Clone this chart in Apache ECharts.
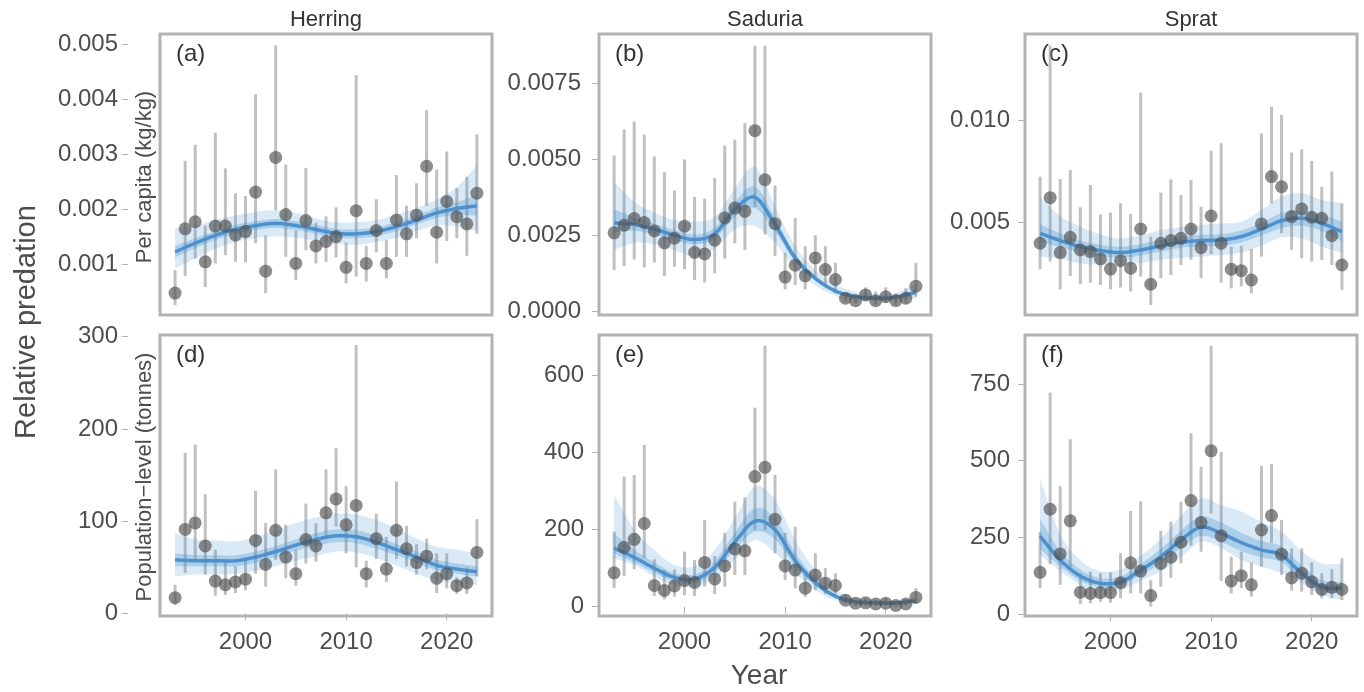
<!DOCTYPE html>
<html>
<head>
<meta charset="utf-8">
<style>
    html, body { margin: 0; padding: 0; background: #fff; }
    #chart { width: 1364px; height: 692px; }
</style>
</head>
<body>
<div id="chart"></div>
<script src="https://cdn.jsdelivr.net/npm/echarts@6.0.0/dist/echarts.min.js"></script>
<script>
    // years of the annual estimates and of the smooth trend knots
    var years = [1993, 1994, 1995, 1996, 1997, 1998, 1999, 2000, 2001, 2002, 2003, 2004, 2005, 2006, 2007,
        2008, 2009, 2010, 2011, 2012, 2013, 2014, 2015, 2016, 2017, 2018, 2019, 2020, 2021, 2022, 2023];
    var trendYears = [1993, 1995, 1997, 1999, 2001, 2003, 2005, 2007, 2009, 2011, 2013, 2015, 2017, 2019, 2021, 2023];
    var yearTicks = [2000, 2010, 2020];

    // per capita values are read in units of 0.001 kg/kg
    var PC_UNIT = 0.001;

    // (a) herring, per capita
    var herringPcEst = [0.47, 1.64, 1.77, 1.04, 1.69, 1.69, 1.53, 1.59, 2.31, 0.87, 2.94, 1.90, 1.01, 1.79, 1.33, 1.41, 1.50, 0.94, 1.97, 1.01, 1.61, 1.01, 1.80, 1.55, 1.89, 2.78, 1.58, 2.14, 1.86, 1.73, 2.29];
    var herringPcLo = [0.25, 0.78, 1.10, 0.58, 1.01, 1.16, 1.04, 1.03, 1.38, 0.47, 1.98, 1.13, 0.71, 1.25, 1.01, 1.04, 1.12, 0.65, 0.77, 0.68, 1.21, 0.74, 1.13, 1.13, 1.47, 2.06, 1.01, 1.42, 1.47, 1.15, 1.55];
    var herringPcHi = [0.89, 2.88, 3.17, 1.70, 3.39, 2.74, 2.29, 2.24, 4.09, 1.52, 4.98, 2.81, 1.61, 2.75, 1.75, 1.87, 2.03, 1.39, 4.44, 1.33, 2.18, 1.44, 2.62, 2.06, 2.47, 3.80, 2.72, 3.05, 2.38, 2.59, 3.36];
    var herringPcMean = [1.22, 1.38, 1.52, 1.63, 1.70, 1.74, 1.70, 1.63, 1.56, 1.55, 1.59, 1.68, 1.80, 1.93, 2.01, 2.06];
    var herringPcInLo = [1.12, 1.29, 1.44, 1.55, 1.62, 1.66, 1.62, 1.55, 1.48, 1.47, 1.51, 1.60, 1.72, 1.84, 1.89, 1.88];
    var herringPcInHi = [1.33, 1.47, 1.60, 1.71, 1.78, 1.82, 1.78, 1.71, 1.64, 1.63, 1.67, 1.76, 1.88, 2.03, 2.13, 2.25];
    var herringPcOutLo = [0.92, 1.10, 1.28, 1.40, 1.47, 1.50, 1.48, 1.43, 1.37, 1.35, 1.40, 1.48, 1.60, 1.70, 1.68, 1.60];
    var herringPcOutHi = [1.65, 1.70, 1.80, 1.88, 1.95, 1.98, 1.93, 1.83, 1.76, 1.76, 1.80, 1.90, 2.02, 2.18, 2.40, 2.80];
    var herringPcTicks = [0.001, 0.002, 0.003, 0.004, 0.005];

    // (b) saduria, per capita
    var saduriaPcEst = [2.58, 2.83, 3.05, 2.92, 2.64, 2.25, 2.40, 2.80, 1.93, 1.88, 2.34, 3.07, 3.40, 3.29, 5.95, 4.33, 2.88, 1.12, 1.51, 1.16, 1.75, 1.37, 1.04, 0.42, 0.34, 0.53, 0.34, 0.47, 0.34, 0.42, 0.82];
    var saduriaPcLo = [1.35, 1.48, 1.70, 1.44, 1.60, 1.16, 1.46, 1.38, 1.02, 0.94, 1.24, 1.73, 2.23, 2.01, 3.43, 2.53, 1.81, 0.71, 0.86, 0.71, 1.13, 0.83, 0.58, 0.31, 0.25, 0.34, 0.20, 0.27, 0.20, 0.25, 0.47];
    var saduriaPcHi = [5.13, 5.99, 6.25, 5.82, 5.10, 4.58, 3.98, 5.00, 3.76, 3.71, 4.39, 5.46, 5.65, 6.20, 8.75, 8.75, 4.14, 1.92, 3.07, 2.14, 2.50, 2.14, 1.59, 0.53, 0.47, 0.78, 0.64, 0.78, 0.58, 0.75, 1.59];
    var saduriaPcMean = [2.91, 2.85, 2.70, 2.50, 2.36, 2.55, 3.35, 3.75, 2.85, 1.75, 1.08, 0.66, 0.48, 0.42, 0.46, 0.62];
    var saduriaPcInLo = [2.60, 2.65, 2.52, 2.33, 2.20, 2.38, 3.10, 3.40, 2.62, 1.63, 1.00, 0.60, 0.44, 0.38, 0.42, 0.54];
    var saduriaPcInHi = [3.35, 3.10, 2.88, 2.67, 2.52, 2.75, 3.60, 4.10, 3.08, 1.88, 1.17, 0.72, 0.52, 0.46, 0.51, 0.72];
    var saduriaPcOutLo = [2.01, 2.25, 2.20, 2.00, 1.80, 2.05, 2.70, 2.80, 2.25, 1.40, 0.85, 0.50, 0.35, 0.32, 0.35, 0.42];
    var saduriaPcOutHi = [4.25, 3.60, 3.25, 3.00, 2.95, 3.10, 4.05, 4.75, 3.45, 2.15, 1.35, 0.88, 0.63, 0.55, 0.60, 0.90];
    var saduriaPcTicks = [0, 0.0025, 0.005, 0.0075];

    // (c) sprat, per capita
    var spratPcEst = [3.97, 6.21, 3.51, 4.26, 3.64, 3.56, 3.20, 2.70, 3.11, 2.74, 4.67, 1.95, 3.97, 4.10, 4.21, 4.67, 3.75, 5.31, 3.97, 2.69, 2.62, 2.16, 4.92, 7.25, 6.75, 5.28, 5.66, 5.25, 5.20, 4.34, 2.90];
    var spratPcLo = [2.69, 3.07, 1.70, 2.36, 1.95, 2.03, 1.92, 1.70, 1.79, 1.59, 2.33, 0.93, 2.25, 2.41, 2.90, 3.15, 2.25, 3.44, 2.03, 1.75, 1.84, 1.51, 3.31, 5.93, 4.46, 3.64, 3.23, 3.07, 3.15, 2.90, 1.67];
    var spratPcHi = [7.25, 13.70, 7.13, 7.57, 5.74, 6.84, 5.39, 5.48, 5.93, 5.41, 11.38, 4.30, 6.46, 7.11, 6.34, 7.08, 5.77, 8.52, 8.89, 3.80, 3.84, 3.69, 9.38, 10.69, 10.28, 8.43, 8.59, 8.02, 6.75, 7.49, 5.93];
    var spratPcMean = [4.46, 4.10, 3.80, 3.61, 3.51, 3.64, 3.84, 4.02, 4.10, 4.13, 4.30, 4.66, 5.08, 5.20, 4.95, 4.54];
    var spratPcInLo = [4.05, 3.77, 3.52, 3.35, 3.25, 3.37, 3.56, 3.74, 3.82, 3.85, 4.01, 4.35, 4.72, 4.83, 4.58, 4.08];
    var spratPcInHi = [4.90, 4.45, 4.10, 3.90, 3.80, 3.93, 4.13, 4.30, 4.38, 4.42, 4.60, 4.98, 5.45, 5.58, 5.35, 5.05];
    var spratPcOutLo = [3.31, 3.20, 2.98, 2.92, 2.90, 3.00, 3.15, 3.25, 3.31, 3.40, 3.51, 3.85, 4.26, 4.21, 3.80, 3.50];
    var spratPcOutHi = [6.26, 5.30, 4.79, 4.40, 4.21, 4.35, 4.62, 4.75, 4.87, 4.95, 5.03, 5.60, 6.26, 6.43, 6.10, 5.95];
    var spratPcTicks = [0.005, 0.010];

    // (d) herring, population level (tonnes)
    var herringPopEst = [17, 91, 98, 73, 35, 31, 34, 37, 79, 53, 90, 61, 43, 80, 73, 109, 124, 96, 117, 43, 81, 48, 90, 70, 55, 62, 38, 43, 30, 33, 66];
    var herringPopLo = [9, 44, 58, 42, 19, 20, 22, 25, 43, 29, 58, 38, 30, 54, 56, 84, 94, 65, 50, 28, 59, 34, 59, 51, 42, 48, 22, 27, 21, 21, 40];
    var herringPopHi = [31, 174, 183, 129, 69, 59, 51, 60, 133, 98, 156, 96, 69, 119, 98, 156, 179, 138, 291, 57, 108, 83, 143, 95, 75, 81, 65, 65, 39, 50, 102];
    var herringPopMean = [58, 57, 57, 57, 61, 67, 74, 80, 84, 83, 77, 69, 61, 52, 48, 45];
    var herringPopInLo = [51, 51, 51, 51, 55, 61, 68, 73, 77, 76, 70, 63, 55, 47, 43, 40];
    var herringPopInHi = [65, 63, 63, 63, 67, 73, 80, 87, 91, 90, 84, 75, 67, 58, 54, 51];
    var herringPopOutLo = [40, 42, 42, 43, 46, 51, 57, 62, 67, 66, 60, 52, 43, 36, 33, 31];
    var herringPopOutHi = [87, 80, 79, 78, 83, 90, 98, 104, 108, 107, 101, 92, 81, 72, 69, 65];
    var herringPopTicks = [0, 100, 200, 300];

    // (e) saduria, population level (tonnes)
    var saduriaPopEst = [88, 154, 175, 216, 55, 42, 54, 68, 63, 115, 72, 106, 150, 145, 338, 362, 227, 106, 95, 48, 82, 61, 55, 17, 9, 10, 7, 9, 3, 7, 24];
    var saduriaPopLo = [48, 80, 97, 126, 28, 19, 26, 30, 28, 52, 33, 52, 82, 82, 199, 199, 139, 69, 48, 26, 43, 33, 32, 9, 2, 3, 2, 2, 0, 2, 10];
    var saduriaPopHi = [195, 338, 342, 420, 123, 95, 97, 143, 121, 225, 132, 192, 273, 284, 517, 678, 342, 192, 208, 94, 139, 100, 87, 30, 17, 22, 17, 21, 13, 19, 48];
    var saduriaPopMean = [152, 128, 100, 76, 72, 102, 168, 222, 200, 120, 63, 27, 13, 10, 10, 15];
    var saduriaPopInLo = [138, 115, 88, 66, 62, 88, 148, 195, 175, 104, 54, 22, 10, 8, 8, 11];
    var saduriaPopInHi = [190, 148, 115, 87, 84, 118, 192, 255, 230, 140, 74, 33, 16, 12, 12, 19];
    var saduriaPopOutLo = [125, 108, 78, 56, 52, 74, 121, 173, 139, 87, 43, 16, 7, 5, 5, 7];
    var saduriaPopOutHi = [290, 200, 147, 108, 106, 147, 229, 312, 277, 173, 95, 45, 22, 16, 16, 26];
    var saduriaPopTicks = [0, 200, 400, 600];

    // (f) sprat, population level (tonnes)
    var spratPopEst = [136, 342, 196, 304, 71, 67, 70, 70, 102, 167, 140, 60, 165, 185, 234, 370, 298, 532, 255, 108, 125, 95, 274, 321, 195, 118, 133, 105, 80, 87, 80];
    var spratPopLo = [84, 162, 95, 143, 33, 35, 40, 37, 51, 67, 67, 24, 89, 118, 165, 222, 203, 328, 108, 67, 84, 57, 154, 233, 127, 76, 73, 62, 51, 51, 46];
    var spratPopHi = [268, 722, 417, 570, 133, 138, 133, 136, 198, 336, 368, 111, 271, 301, 366, 589, 480, 875, 529, 187, 203, 168, 483, 489, 307, 214, 214, 168, 133, 146, 182];
    var spratPopMean = [254, 176, 124, 100, 105, 143, 187, 241, 283, 263, 233, 209, 192, 133, 89, 84];
    var spratPopInLo = [212, 155, 108, 88, 92, 127, 165, 215, 255, 235, 205, 185, 168, 115, 74, 68];
    var spratPopInHi = [310, 205, 145, 117, 122, 163, 212, 272, 318, 298, 265, 238, 220, 158, 110, 105];
    var spratPopOutLo = [192, 140, 95, 75, 78, 108, 140, 185, 236, 215, 176, 155, 133, 100, 62, 46];
    var spratPopOutHi = [442, 260, 175, 140, 145, 190, 245, 320, 377, 355, 334, 300, 268, 205, 165, 165];
    var spratPopTicks = [0, 250, 500, 750];

    var columnTitles = ["Herring", "Saduria", "Sprat"];
    var panelTags = ["(a)", "(b)", "(c)", "(d)", "(e)", "(f)"];

    var FONT = "'Liberation Sans', Arial, sans-serif";
    var TEXT = "#4d4d4d";
    var FRAME = "#b3b3b3";

    function scale(arr, k) { return arr.map(function (v) { return v * k; }); }
    function pairs(xs, ys) { return xs.map(function (x, i) { return [x, ys[i]]; }); }

    // catmull-rom through pixel points, so band edges and trend line bend the same way
    function spline(pts, steps) {
        var out = [];
        for (var i = 0; i < pts.length - 1; i++) {
            var p0 = pts[Math.max(i - 1, 0)], p1 = pts[i], p2 = pts[i + 1], p3 = pts[Math.min(i + 2, pts.length - 1)];
            for (var s = 0; s < steps; s++) {
                var t = s / steps, t2 = t * t, t3 = t2 * t;
                var pt = [0, 1].map(function (d) {
                    return 0.5 * (2 * p1[d] + (p2[d] - p0[d]) * t + (2 * p0[d] - 5 * p1[d] + 4 * p2[d] - p3[d]) * t2 +
                        (3 * p1[d] - p0[d] - 3 * p2[d] + p3[d]) * t3);
                });
                out.push(pt);
            }
        }
        out.push(pts[pts.length - 1]);
        return out;
    }

    var pc = function (a) { return scale(a, PC_UNIT); };
    var one = function (a) { return a; };

    var panels = [
        {s: pc, est: herringPcEst, lo: herringPcLo, hi: herringPcHi, mean: herringPcMean, inLo: herringPcInLo, inHi: herringPcInHi, outLo: herringPcOutLo, outHi: herringPcOutHi, ticks: herringPcTicks, dec: 3, min: 0.0000716, max: 0.005188},
        {s: pc, est: saduriaPcEst, lo: saduriaPcLo, hi: saduriaPcHi, mean: saduriaPcMean, inLo: saduriaPcInLo, inHi: saduriaPcInHi, outLo: saduriaPcOutLo, outHi: saduriaPcOutHi, ticks: saduriaPcTicks, dec: 4, min: -0.000132, max: 0.00914},
        {s: pc, est: spratPcEst, lo: spratPcLo, hi: spratPcHi, mean: spratPcMean, inLo: spratPcInLo, inHi: spratPcInHi, outLo: spratPcOutLo, outHi: spratPcOutHi, ticks: spratPcTicks, dec: 3, min: 0.000438, max: 0.014267},
        {s: one, est: herringPopEst, lo: herringPopLo, hi: herringPopHi, mean: herringPopMean, inLo: herringPopInLo, inHi: herringPopInHi, outLo: herringPopOutLo, outHi: herringPopOutHi, ticks: herringPopTicks, dec: 0, min: -2.9, max: 301.8},
        {s: one, est: saduriaPopEst, lo: saduriaPopLo, hi: saduriaPopHi, mean: saduriaPopMean, inLo: saduriaPopInLo, inHi: saduriaPopInHi, outLo: saduriaPopOutLo, outHi: saduriaPopOutHi, ticks: saduriaPopTicks, dec: 0, min: -24.2, max: 705.7},
        {s: one, est: spratPopEst, lo: spratPopLo, hi: spratPopHi, mean: spratPopMean, inLo: spratPopInLo, inHi: spratPopInHi, outLo: spratPopOutLo, outHi: spratPopOutHi, ticks: spratPopTicks, dec: 0, min: -6.5, max: 909.8}
    ];

    var colLeft = [160, 599, 1025];
    var rowTop = [34, 335];
    var gridW = 332, gridH = 281;
    var yOffset = [32, 1, 1];
    var yMargin = [[10, 17, 14], [10, 14, 14]];

    var grids = [], xAxes = [], yAxes = [], series = [];

    panels.forEach(function (p, i) {
        var row = Math.floor(i / 3), col = i % 3;
        grids.push({
            left: colLeft[col], top: rowTop[row], width: gridW, height: gridH,
            show: true, borderColor: FRAME, borderWidth: 3
        });
        xAxes.push({
            gridIndex: i, type: "value", min: 1991.5, max: 2024.5, offset: 1,
            axisLine: {show: false}, splitLine: {show: false},
            axisTick: {show: row === 1, length: 7, customValues: yearTicks, lineStyle: {color: FRAME, width: 1}},
            axisLabel: {
                show: row === 1, customValues: yearTicks, margin: 13, color: TEXT, fontSize: 24, fontFamily: FONT,
                formatter: function (v) { return String(v); }
            }
        });
        yAxes.push({
            gridIndex: i, type: "value", min: p.min, max: p.max, offset: yOffset[col],
            axisLine: {show: false}, splitLine: {show: false},
            axisTick: {show: true, length: 6, customValues: p.ticks, lineStyle: {color: FRAME, width: 1}},
            axisLabel: {
                customValues: p.ticks, margin: yMargin[row][col], color: TEXT, fontSize: 24, fontFamily: FONT,
                formatter: (function (d) { return function (v) { return v.toFixed(d); }; })(p.dec)
            }
        });

        var est = p.s(p.est), lo = p.s(p.lo), hi = p.s(p.hi);
        var mean = p.s(p.mean), inLo = p.s(p.inLo), inHi = p.s(p.inHi), outLo = p.s(p.outLo), outHi = p.s(p.outHi);

        // interval bars of the annual estimates
        series.push({
            type: "custom", xAxisIndex: i, yAxisIndex: i, clip: true, silent: true,
            data: years.map(function (y, k) { return [y, lo[k], hi[k]]; }),
            renderItem: function (params, api) {
                var a = api.coord([api.value(0), api.value(1)]);
                var b = api.coord([api.value(0), api.value(2)]);
                return {
                    type: "line",
                    shape: {x1: a[0], y1: a[1], x2: b[0], y2: b[1]},
                    style: {stroke: "rgba(140,140,140,0.55)", lineWidth: 3}
                };
            }
        });
        // credible bands and trend, drawn as one group from the trend knots
        series.push({
            type: "custom", xAxisIndex: i, yAxisIndex: i, clip: true, silent: true,
            data: trendYears.map(function (y, k) { return [y, mean[k], inLo[k], inHi[k], outLo[k], outHi[k]]; }),
            renderItem: function (params, api) {
                if (params.dataIndex !== 0) return null;
                var px = function (ys) { return spline(trendYears.map(function (y, k) { return api.coord([y, ys[k]]); }), 8); };
                var band = function (loArr, hiArr) { return px(hiArr).concat(px(loArr).reverse()); };
                return {
                    type: "group",
                    children: [
                        {type: "polygon", shape: {points: band(outLo, outHi)}, style: {fill: "rgba(66,146,210,0.2)"}},
                        {type: "polygon", shape: {points: band(inLo, inHi)}, style: {fill: "rgba(66,146,210,0.3)"}},
                        {type: "polyline", shape: {points: px(mean)}, style: {fill: "none", stroke: "rgba(70,140,202,0.92)", lineWidth: 3.5}}
                    ]
                };
            }
        });
        // annual estimates
        series.push({
            type: "scatter", xAxisIndex: i, yAxisIndex: i, symbolSize: 13, silent: true,
            itemStyle: {color: "rgba(80,80,80,0.82)"}, data: pairs(years, est)
        });
    });

    var graphics = [];
    columnTitles.forEach(function (t, c) {
        graphics.push({type: "text", x: colLeft[c] + gridW / 2, y: 20,
            style: {text: t, font: "22px " + FONT, fill: "#333", textAlign: "center", textVerticalAlign: "middle"}});
    });
    panelTags.forEach(function (t, i) {
        var row = Math.floor(i / 3), col = i % 3;
        graphics.push({type: "text", x: colLeft[col] + 16, y: rowTop[row] + 20,
            style: {text: t, font: "24px " + FONT, fill: "#333", textAlign: "left", textVerticalAlign: "middle"}});
    });
    graphics.push({type: "text", x: 27, y: 322, rotation: Math.PI / 2,
        style: {text: "Relative predation", font: "29px " + FONT, fill: TEXT, textAlign: "center", textVerticalAlign: "middle"}});
    graphics.push({type: "text", x: 145, y: 177, rotation: Math.PI / 2,
        style: {text: "Per capita (kg/kg)", font: "22px " + FONT, fill: TEXT, textAlign: "center", textVerticalAlign: "middle"}});
    graphics.push({type: "text", x: 145, y: 477, rotation: Math.PI / 2,
        style: {text: "Population\u2212level (tonnes)", font: "22px " + FONT, fill: TEXT, textAlign: "center", textVerticalAlign: "middle"}});
    graphics.push({type: "text", x: 759, y: 676,
        style: {text: "Year", font: "28px " + FONT, fill: TEXT, textAlign: "center", textVerticalAlign: "middle"}});

    var myChart = echarts.init(document.getElementById("chart"));
    myChart.setOption({
        animation: false,
        backgroundColor: "#fff",
        grid: grids,
        xAxis: xAxes,
        yAxis: yAxes,
        series: series,
        graphic: graphics
    });
</script>
</body>
</html>
